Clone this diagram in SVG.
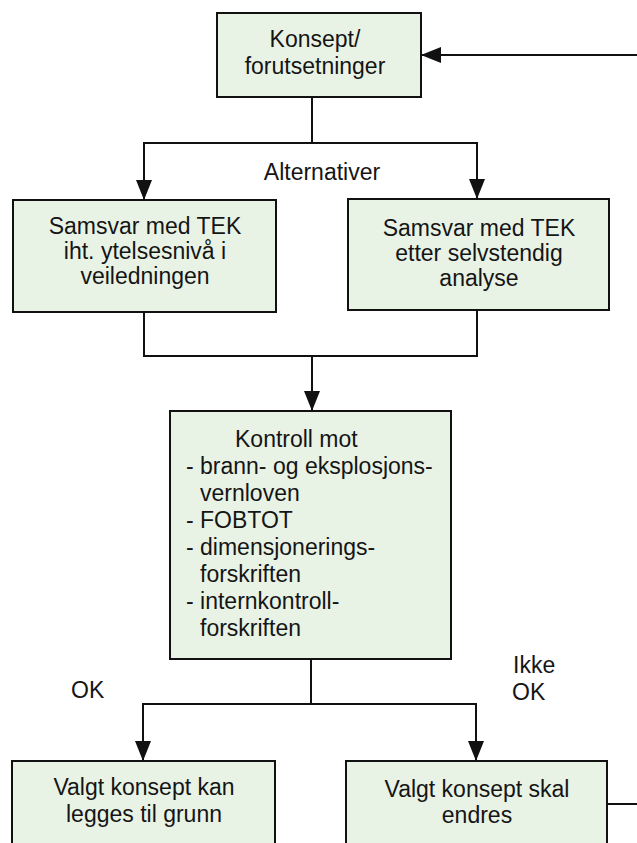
<svg xmlns="http://www.w3.org/2000/svg" width="637" height="843" viewBox="0 0 637 843">
<style>
.box{fill:#e9f3e5;stroke:#111;stroke-width:2}
.ln{fill:none;stroke:#111;stroke-width:2}
text{font-family:"Liberation Sans",Arial,sans-serif;font-size:23px;fill:#151515}
.c{text-anchor:middle}
</style>
<defs>
<marker id="ah" markerWidth="20" markerHeight="16" refX="20" refY="8" orient="auto" markerUnits="userSpaceOnUse">
<path d="M0,0 L20,8 L0,16 Z" fill="#111"/>
</marker>
</defs>
<rect width="637" height="843" fill="#fff"/>
<g id="connectors">
<path class="ln" d="M637,55 H421" marker-end="url(#ah)"/>
<path class="ln" d="M312,97 V143"/>
<path class="ln" d="M312,143 H144 V200" marker-end="url(#ah)"/>
<path class="ln" d="M312,143 H477 V199" marker-end="url(#ah)"/>
<path class="ln" d="M144,312 V356 H477 V310"/>
<path class="ln" d="M312,356 V411" marker-end="url(#ah)"/>
<path class="ln" d="M311,659 V704"/>
<path class="ln" d="M311,704 H143 V761" marker-end="url(#ah)"/>
<path class="ln" d="M311,704 H476 V761" marker-end="url(#ah)"/>
<path class="ln" d="M607,804 H637"/>
<text x="322" y="180" class="c">Alternativer</text>
<text x="71" y="698">OK</text>
<text x="513" y="673">Ikke</text>
<text x="512" y="700">OK</text>
</g>
<g id="n-konsept">
<rect class="box" x="217" y="13" width="204" height="84"/>
<text x="315" y="47" class="c">Konsept/</text>
<text x="315" y="74" class="c">forutsetninger</text>
</g>
<g id="n-veiledning">
<rect class="box" x="13" y="200" width="263" height="112"/>
<text x="145" y="234" class="c">Samsvar med TEK</text>
<text x="145" y="259" class="c">iht. ytelsesnivå i</text>
<text x="145" y="284" class="c">veiledningen</text>
</g>
<g id="n-analyse">
<rect class="box" x="348" y="199" width="261" height="111"/>
<text x="479" y="236" class="c">Samsvar med TEK</text>
<text x="479" y="261" class="c">etter selvstendig</text>
<text x="479" y="286" class="c">analyse</text>
</g>
<g id="n-kontroll">
<rect class="box" x="170" y="411" width="281" height="248"/>
<text x="235" y="447">Kontroll mot</text>
<text x="186" y="474">- brann- og eksplosjons-</text>
<text x="200" y="501">vernloven</text>
<text x="186" y="528">- FOBTOT</text>
<text x="186" y="555">- dimensjonerings-</text>
<text x="200" y="582">forskriften</text>
<text x="186" y="609">- internkontroll-</text>
<text x="200" y="636">forskriften</text>
</g>
<g id="n-ok">
<rect class="box" x="12" y="761" width="263" height="100"/>
<text x="144" y="795" class="c">Valgt konsept kan</text>
<text x="144" y="822" class="c">legges til grunn</text>
</g>
<g id="n-endres">
<rect class="box" x="346" y="761" width="261" height="100"/>
<text x="477" y="797" class="c">Valgt konsept skal</text>
<text x="477" y="823" class="c">endres</text>
</g>
</svg>
